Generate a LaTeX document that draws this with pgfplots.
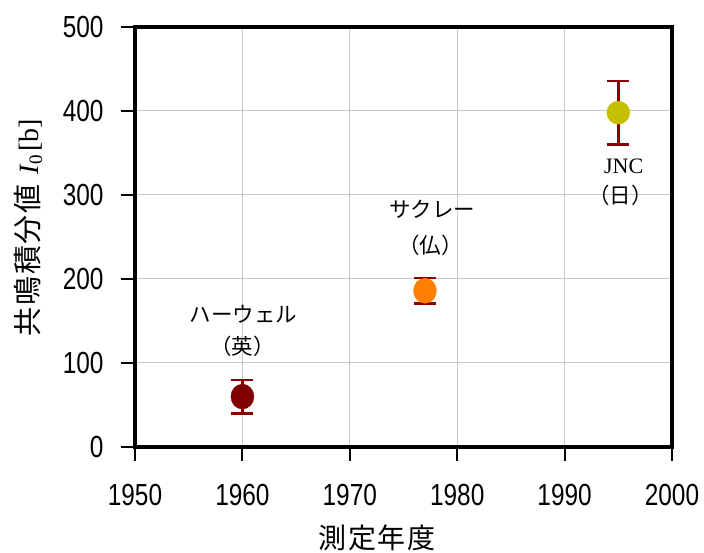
\documentclass[border=0pt]{standalone}
\usepackage{fontspec}
\setmainfont{Liberation Sans}
\newfontfamily\narrowfont[FakeStretch=0.8]{Liberation Sans}
\newfontfamily\jp{Noto Sans CJK JP}
\newfontfamily\jpwide[LetterSpace=6]{Noto Sans CJK JP}
\newfontfamily\serif{Liberation Serif}
\usepackage{pgfplots}
\pgfplotsset{compat=1.18}
\definecolor{errred}{HTML}{8B0000}
\definecolor{p1}{HTML}{800000}
\definecolor{p2}{HTML}{FF8000}
\definecolor{p3}{HTML}{C4C000}
\definecolor{gridgray}{HTML}{C8C8C8}
\begin{document}
\begin{tikzpicture}[x=1pt,y=1pt]
\path[use as bounding box] (-135,-106) rectangle (569,447);
\begin{axis}[
  at={(0,0)}, anchor=south west,
  scale only axis, width=537pt, height=420pt,
  xmin=1950, xmax=2000, ymin=0, ymax=500,
  xtick={1950,1960,...,2000}, ytick={0,100,...,500},
  grid=major, major grid style={gridgray, line width=1pt},
  axis line style={black, line width=3.5pt},
  tick align=outside, major tick length=14pt,
  tick style={black, line width=2pt},
  xtick pos=bottom, ytick pos=left,
  /pgf/number format/assume math mode=true,
  /pgf/number format/1000 sep={},
  tick label style={font=\fontsize{30.5}{32}\narrowfont},
  xticklabel style={yshift=-20pt},
  yticklabel style={xshift=-14pt},
  clip=false,
]
\addplot[only marks, mark=*, mark size=11.5pt, color=p1, mark options={yscale=1.08},
  error bars/.cd, y dir=both, y explicit, error mark=|,
  error bar style={errred, line width=2.5pt},
  error mark options={errred, line width=2.5pt, mark size=11pt}]
  coordinates {(1960,60) +- (0,20)};
\addplot[only marks, mark=*, mark size=11.5pt, color=p2, mark options={yscale=1.08},
  error bars/.cd, y dir=both, y explicit, error mark=|,
  error bar style={errred, line width=2.5pt},
  error mark options={errred, line width=2.5pt, mark size=11pt}]
  coordinates {(1977,186) +- (0,15)};
\addplot[only marks, mark=*, mark size=11.5pt, color=p3,
  error bars/.cd, y dir=both, y explicit, error mark=|,
  error bar style={errred, line width=2.5pt},
  error mark options={errred, line width=2.5pt, mark size=11pt}]
  coordinates {(1995,398) +- (0,38)};
\node[font=\fontsize{21.5}{22}\jp] at (axis cs:1960.1,158) {ハーウェル};
\node[font=\fontsize{21.5}{22}\jp] at (axis cs:1960,120) {（英）};
\node[font=\fontsize{21.5}{22}\jp] at (axis cs:1977.7,283) {サクレー};
\node[font=\fontsize{21.5}{22}\jp] at (axis cs:1977.5,240) {（仏）};
\node[font=\fontsize{22}{22}\serif] at (axis cs:1995.5,334) {JNC};
\node[font=\fontsize{21.5}{22}\jp] at (axis cs:1995.2,300) {（日）};
\end{axis}
\node[font=\fontsize{28}{28}\jpwide] at (242,-91) {測定年度};
\node[rotate=90] at (-107,219.5) {{\fontsize{29}{29}\jpwide 共鳴積分値}\hspace{10pt}{\fontsize{28}{28}\serif\itshape I}\raisebox{-4pt}{\fontsize{19}{19}\serif 0}\hspace{4pt}{\fontsize{28}{28}\serif [b]}};
\end{tikzpicture}
\end{document}
